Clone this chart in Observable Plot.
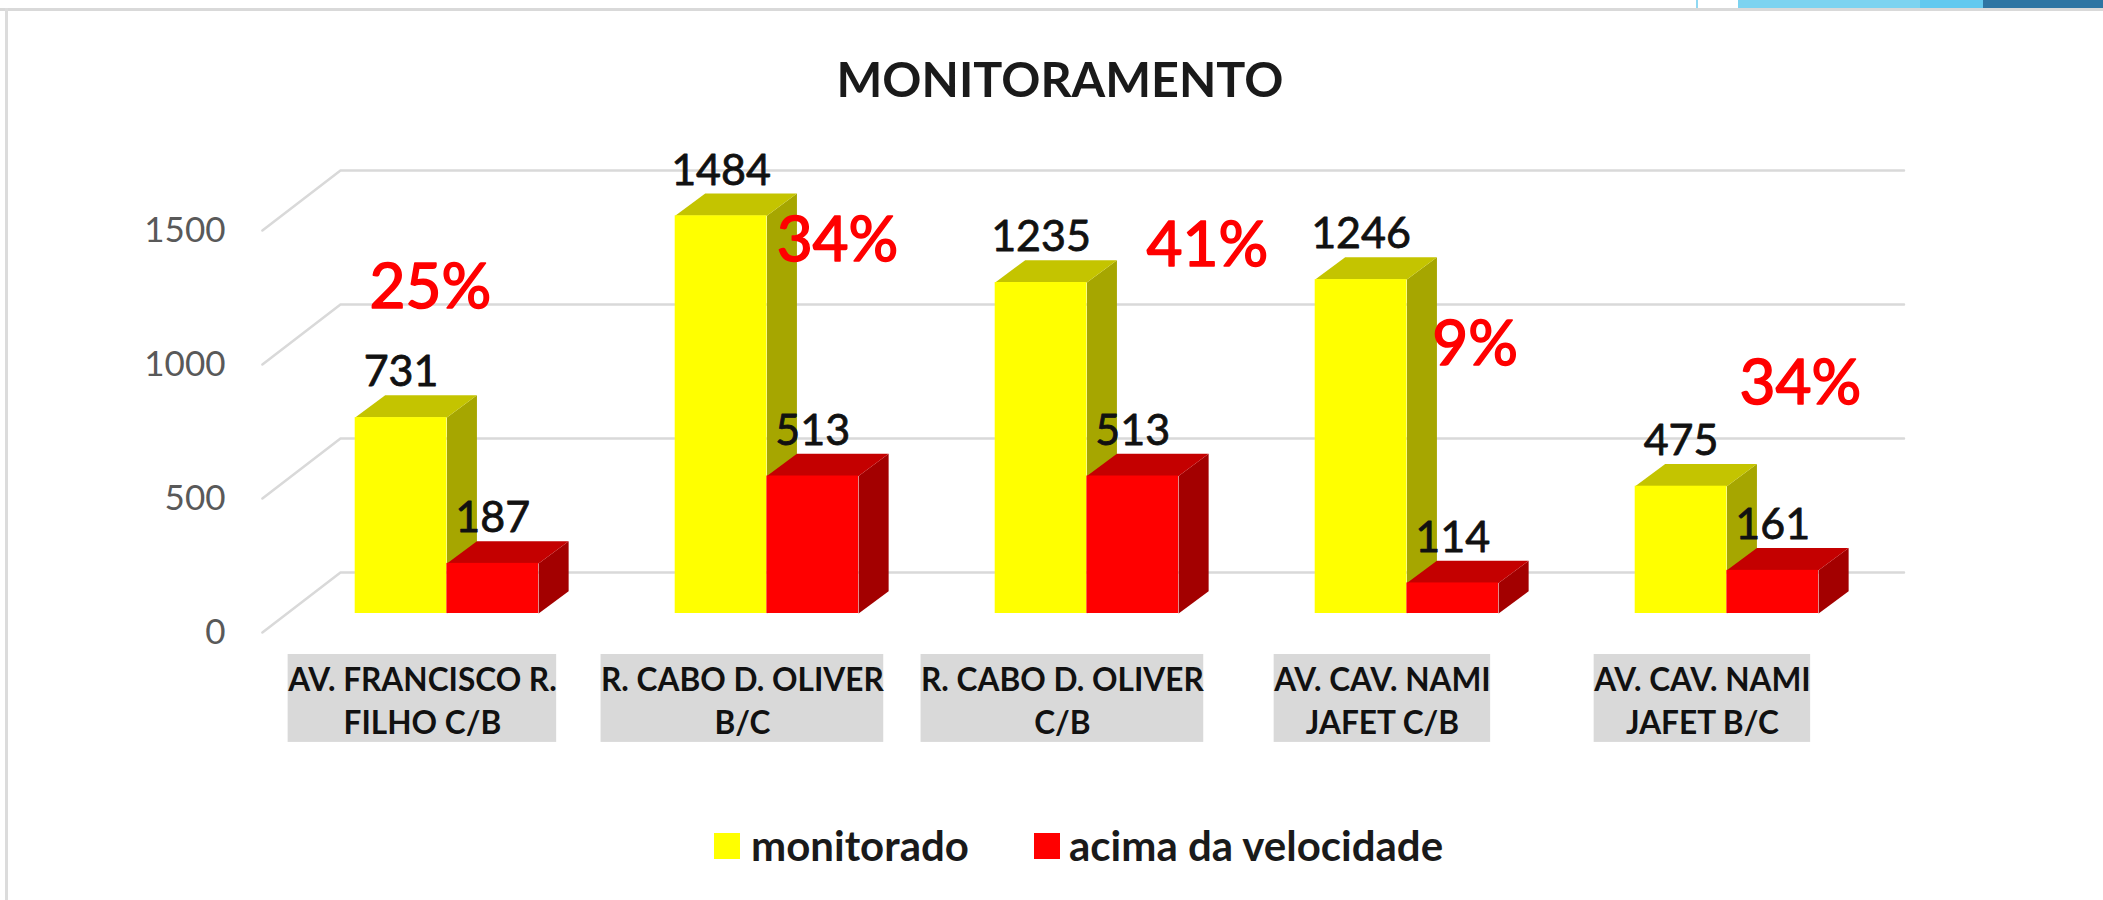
<!DOCTYPE html>
<html>
<head>
<meta charset="utf-8">
<script src="https://cdn.jsdelivr.net/npm/d3@7"></script>
<script src="https://cdn.jsdelivr.net/npm/@observablehq/plot@0.6"></script>
<style>
  html, body { margin: 0; padding: 0; background: #fff; }
  body { width: 2103px; height: 900px; overflow: hidden; position: relative; font-family: Lato, sans-serif; }
  .edge { position: absolute; }
  #title { height: 115px; box-sizing: border-box; padding-top: 48px; padding-left: 1060px; line-height: 60px; }
  #title span { display: inline-block; transform: translateX(-50%); font-size: 48.5px; font-weight: 700; color: #1a1a1a; white-space: nowrap; }
  #chart svg { display: block; }
  #legend { position: absolute; left: 0; top: 805px; width: 2103px; height: 95px; }
  .sw { position: absolute; top: 28px; width: 26px; height: 26px; }
  .lt { position: absolute; top: 16px; line-height: 48px; font-size: 42px; font-weight: 700; color: #1a1a1a; white-space: nowrap; }
</style>
</head>
<body>
<div class="edge" style="left:0;top:8px;width:2103px;height:3px;background:#d9d9d9"></div>
<div class="edge" style="left:5px;top:8px;width:3px;height:892px;background:#dcdcdc"></div>
<div class="edge" style="left:1696px;top:0;width:2px;height:8px;background:#8fd8f2"></div>
<div class="edge" style="left:1738px;top:0;width:182px;height:8px;background:#7dd3f0"></div>
<div class="edge" style="left:1920px;top:0;width:63px;height:8px;background:#62c9ef"></div>
<div class="edge" style="left:1983px;top:0;width:120px;height:8px;background:#2e75a3"></div>

<div id="title"><span>MONITORAMENTO</span></div>
<div id="chart"></div>
<div id="legend">
  <div class="sw" style="left:714px;background:#ffff00"></div><div class="lt" style="left:751px">monitorado</div>
  <div class="sw" style="left:1034px;background:#ff0000"></div><div class="lt" style="left:1069px">acima da velocidade</div>
</div>

<script>
const categories = ["AV. FRANCISCO R.\nFILHO C/B", "R. CABO D. OLIVER\nB/C", "R. CABO D. OLIVER\nC/B", "AV. CAV. NAMI\nJAFET C/B", "AV. CAV. NAMI\nJAFET B/C"];
const monitorado = [731, 1484, 1235, 1246, 475];
const acima = [187, 513, 513, 114, 161];
const percentLabels = ["25%", "34%", "41%", "9%", "34%"];
const yTicks = [0, 500, 1000, 1500];

// Where each free-floating percentage sits, in chart units.
const percentX = [0.235, 1.507, 2.663, 3.5, 4.516];
const percentY = [1215, 1390, 1370, 1003, 855];

// Faux-3D geometry, in chart units.
const barW = 0.2866, depthX = 0.0938, depthY = 83;
const floorFront = {x: -0.29, dy: -71}, wallBack = {x: -0.046, dy: 153}, wallEnd = 4.84;
const labelCenter = 0.21, boxTop = -153, boxBottom = -481;
const pxPerUnit = 320;
const catFont = "700 31.6px Lato";

const series = [
  {values: monitorado, offset: 0, front: "#ffff00", top: "#c4c400", side: "#a6a600"},
  {values: acima, offset: 1, front: "#ff0000", top: "#c40000", side: "#a30000"}
];

const faces = [], fronts = [], valueLabels = [];
series.forEach((s, si) => {
  s.values.forEach((v, i) => {
    const l = i + s.offset * barW, r = l + barW;
    const side = `${si}-${i}-side`, top = `${si}-${i}-top`;
    [[r, 0], [r + depthX, depthY], [r + depthX, v + depthY], [r, v]].forEach(([x, y]) => faces.push({id: side, x, y, color: s.side}));
    [[l, v], [l + depthX, v + depthY], [r + depthX, v + depthY], [r, v]].forEach(([x, y]) => faces.push({id: top, x, y, color: s.top}));
    fronts.push({x1: l, x2: r, y1: 0, y2: v, color: s.front});
    valueLabels.push({x: (l + r) / 2, y: v, text: String(v)});
  });
});

const grid = yTicks.flatMap(t => [
  {t, x: floorFront.x, y: t + floorFront.dy},
  {t, x: wallBack.x, y: t + wallBack.dy},
  {t, x: wallEnd, y: t + wallBack.dy}
]);

const ctx = document.createElement("canvas").getContext("2d");
ctx.font = catFont;
const textWidth = s => Math.max(...s.split("\n").map(line => ctx.measureText(line).width));
const boxes = categories.map((c, i) => {
  const half = textWidth(c) / 2 / pxPerUnit;
  return {x1: i + labelCenter - half, x2: i + labelCenter + half, y1: boxBottom, y2: boxTop};
});

const chart = Plot.plot({
  width: 2103,
  height: 690,
  marginLeft: 228, marginRight: 0, marginTop: 0, marginBottom: 0,
  style: {fontFamily: "Lato, sans-serif", background: "transparent", overflow: "visible"},
  x: {type: "linear", domain: [0, 5], range: [354.7, 1954.7], axis: null},
  y: {type: "linear", domain: [0, 1500], range: [498, 96], label: null},
  color: {type: "identity"},
  marks: [
    Plot.line(grid, {x: "x", y: "y", z: "t", stroke: "#d9d9d9", strokeWidth: 2.5}),
    Plot.axisY({ticks: yTicks, tickSize: 0, tickPadding: 3, dy: 19, fontSize: 35, fill: "#595959", label: null, tickFormat: d => String(d)}),
    Plot.line(faces, {x: "x", y: "y", z: "id", fill: "color", stroke: "none"}),
    Plot.rect(fronts, {x1: "x1", x2: "x2", y1: "y1", y2: "y2", fill: "color"}),
    Plot.text(valueLabels, {x: "x", y: "y", text: "text", dy: -45, fontSize: 43, fill: "#111", stroke: "#111", strokeWidth: 0.8, lineAnchor: "middle"}),
    Plot.text(percentLabels, {x: percentX, y: percentY, text: d => d, fontSize: 62, fill: "#ff0000", stroke: "#ff0000", strokeWidth: 1.6, lineAnchor: "middle"}),
    Plot.rect(boxes, {x1: "x1", x2: "x2", y1: "y1", y2: "y2", fill: "#d9d9d9"}),
    Plot.text(categories, {x: (d, i) => i + labelCenter, y: (boxTop + boxBottom) / 2, text: d => d, fontSize: 31.6, fontWeight: 700, fill: "#111", lineHeight: 1.36, lineAnchor: "middle"})
  ]
});
document.getElementById("chart").appendChild(chart);
</script>
</body>
</html>
